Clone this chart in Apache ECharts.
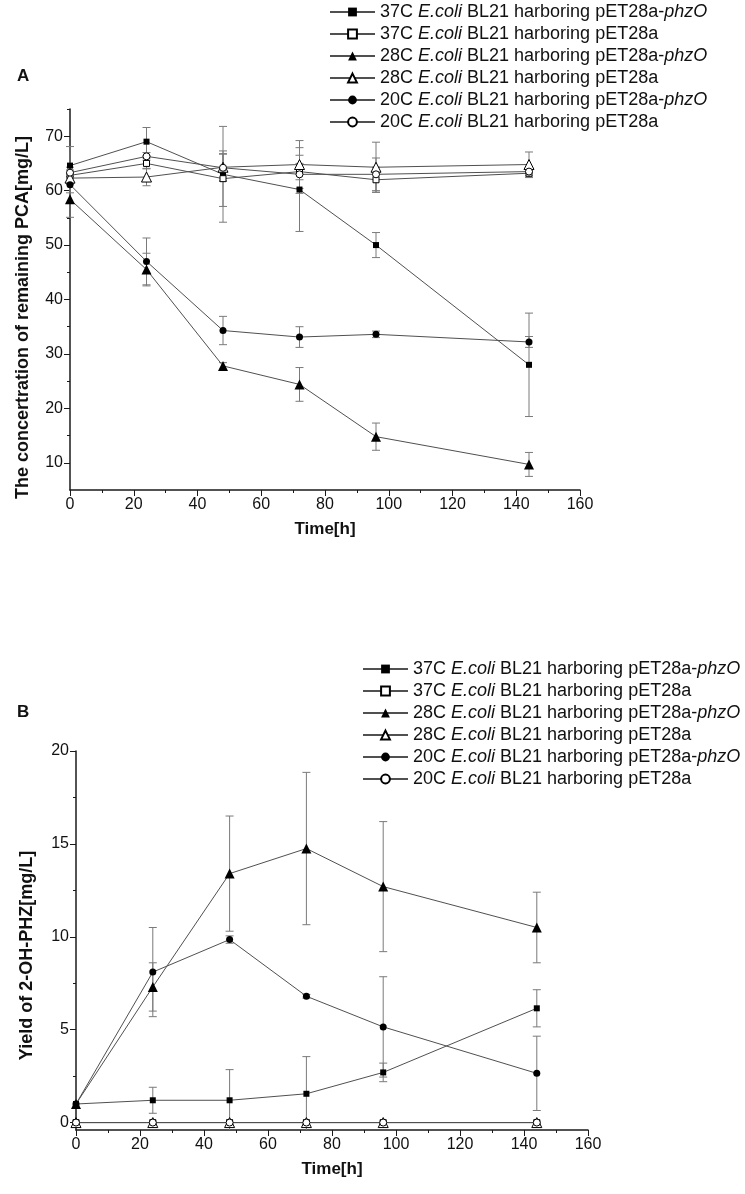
<!DOCTYPE html>
<html>
<head>
<meta charset="utf-8">
<script src="https://cdn.jsdelivr.net/npm/echarts@6/dist/echarts.min.js"></script>
<style>
html,body{margin:0;padding:0;background:#fff;}
#chart{width:745px;height:1194px;}
</style>
</head>
<body>
<div id="chart"></div>
<script>
// ---------- data ----------
const hours = [0, 24, 48, 72, 96, 144];
const xTicks = [0, 20, 40, 60, 80, 100, 120, 140, 160];
const yTicksA = [10, 20, 30, 40, 50, 60, 70];
const yMinorA = [15, 25, 35, 45, 55, 65, 75];
const yTicksB = [0, 5, 10, 15, 20];
const yMinorB = [2.5, 7.5, 12.5, 17.5];

const legendLabels = [
  '37C {i|E.coli} BL21 harboring pET28a-{i|phzO}',
  '37C {i|E.coli} BL21 harboring pET28a',
  '28C {i|E.coli} BL21 harboring pET28a-{i|phzO}',
  '28C {i|E.coli} BL21 harboring pET28a',
  '20C {i|E.coli} BL21 harboring pET28a-{i|phzO}',
  '20C {i|E.coli} BL21 harboring pET28a'
];

// Panel A: remaining PCA (mg/L)
const pca37phzO    = [64.6, 69.0, 63.0, 60.2, 50.0, 28.0];
const pca37phzOErr = [3.5, 2.6, 8.8, 7.7, 2.3, 9.5];
const pca37ctrl    = [62.8, 65.0, 62.2, 63.5, 62.0, 63.2];
const pca37ctrlErr = [1.0, 1.0, 5.1, 1.5, 2.3, 0.8];
const pca28phzO    = [58.4, 45.5, 27.8, 24.4, 14.8, 9.7];
const pca28phzOErr = [3.3, 3.0, 0.6, 3.1, 2.5, 2.2];
const pca28ctrl    = [62.3, 62.5, 64.3, 64.8, 64.3, 64.8];
const pca28ctrlErr = [1.0, 1.6, 2.5, 4.4, 4.6, 2.3];
const pca20phzO    = [61.1, 47.0, 34.3, 33.1, 33.6, 32.2];
const pca20phzOErr = [1.5, 4.3, 2.6, 1.9, 0.6, 1.0];
const pca20ctrl    = [63.3, 66.3, 64.2, 63.0, 63.0, 63.5];
const pca20ctrlErr = [1.0, 0.7, 2.5, 3.5, 3.0, 0.8];

// Panel B: yield of 2-OH-PHZ (mg/L)
const oh37phzO    = [1.0, 1.2, 1.2, 1.55, 2.7, 6.15];
const oh37phzOErr = [0, 0.7, 1.65, 2.0, 0.5, 1.0];
const oh37ctrl    = [0, 0, 0, 0, 0, 0];
const oh37ctrlErr = [0, 0, 0, 0, 0, 0];
const oh28phzO    = [1.0, 7.3, 13.4, 14.75, 12.7, 10.5];
const oh28phzOErr = [0, 1.3, 3.1, 4.1, 3.5, 1.9];
const oh28ctrl    = [0, 0, 0, 0, 0, 0];
const oh28ctrlErr = [0, 0, 0, 0, 0, 0];
const oh20phzO    = [1.0, 8.1, 9.85, 6.8, 5.15, 2.65];
const oh20phzOErr = [0, 2.4, 0.2, 0.1, 2.7, 2.0];
const oh20ctrl    = [0, 0, 0, 0, 0, 0];
const oh20ctrlErr = [0, 0, 0, 0, 0, 0];

// ---------- styling ----------
const FONT = '"Liberation Sans", Arial, sans-serif';
const symbols = ['rect', 'rect', 'triangle', 'triangle', 'circle', 'circle'];
const symbolSizes = [6, 6, 10, 10, 7, 7];
const filled = [true, false, true, false, true, false];
const LINE_COLOR = '#505050';
const ERR_COLOR = '#7a7a7a';

function errRender(params, api) {
  const x = api.value(0), y = api.value(1), e = api.value(2);
  const cs = params.coordSys;
  const top = api.coord([x, y + e]);
  const bot = api.coord([x, y - e]);
  const yMin = cs.y, yMax = cs.y + cs.height;
  const t = Math.max(top[1], yMin), b = Math.min(bot[1], yMax);
  const hw = 4;
  const st = {stroke: ERR_COLOR, lineWidth: 1};
  const ch = [{type: 'line', shape: {x1: top[0], y1: t, x2: top[0], y2: b}, style: st}];
  if (top[1] >= yMin) ch.push({type: 'line', shape: {x1: top[0] - hw, y1: top[1], x2: top[0] + hw, y2: top[1]}, style: st});
  if (bot[1] <= yMax) ch.push({type: 'line', shape: {x1: bot[0] - hw, y1: bot[1], x2: bot[0] + hw, y2: bot[1]}, style: st});
  return {type: 'group', children: ch};
}

function buildPanel(prefix, means, errs, xi, yi) {
  const out = [];
  means.forEach((m, k) => {
    const ed = [];
    hours.forEach((h, i) => { if (errs[k][i] > 0) ed.push([h, m[i], errs[k][i]]); });
    out.push({
      type: 'custom', name: prefix + 'err' + k, xAxisIndex: xi, yAxisIndex: yi,
      renderItem: errRender, data: ed, encode: {x: 0, y: 1}, z: 1, silent: true
    });
  });
  means.forEach((m, k) => {
    out.push({
      type: 'line', name: prefix + k, xAxisIndex: xi, yAxisIndex: yi,
      data: hours.map((h, i) => [h, m[i]]),
      symbol: symbols[k], symbolSize: symbolSizes[k], showAllSymbol: true,
      lineStyle: {color: LINE_COLOR, width: 1},
      itemStyle: filled[k] ? {color: '#000', borderColor: '#000', borderWidth: 0}
                           : {color: '#fff', borderColor: '#000', borderWidth: 1},
      z: 2 + k, animation: false
    });
  });
  return out;
}

const seriesA = buildPanel('A',
  [pca37phzO, pca37ctrl, pca28phzO, pca28ctrl, pca20phzO, pca20ctrl],
  [pca37phzOErr, pca37ctrlErr, pca28phzOErr, pca28ctrlErr, pca20phzOErr, pca20ctrlErr], 0, 0);
const seriesB = buildPanel('B',
  [oh37phzO, oh37ctrl, oh28phzO, oh28ctrl, oh20phzO, oh20ctrl],
  [oh37phzOErr, oh37ctrlErr, oh28phzOErr, oh28ctrlErr, oh20phzOErr, oh20ctrlErr], 1, 2);

const axisLineStyle = {color: '#1a1a1a', width: 1.5};
function xAxisDef(gi) {
  return {
    gridIndex: gi, type: 'value', min: 0, max: 160, interval: 20,
    axisLine: {show: true, onZero: false, lineStyle: axisLineStyle},
    axisTick: {show: true, length: 6, lineStyle: {color: '#1a1a1a', width: 1}},
    minorTick: {show: true, splitNumber: 2, length: 3, lineStyle: {color: '#1a1a1a', width: 1}},
    splitLine: {show: false}, minorSplitLine: {show: false},
    axisLabel: {fontSize: 16, color: '#111', margin: 7, fontFamily: FONT, showMinLabel: true, showMaxLabel: true},
    name: 'Time[h]', nameLocation: 'middle', nameGap: 31,
    nameTextStyle: {fontSize: 17, fontWeight: 'bold', color: '#111', fontFamily: FONT}
  };
}
function yMain(gi, min, max, ticks, name, gap, shift) {
  return {
    gridIndex: gi, type: 'value', min: min, max: max, position: 'left',
    axisLine: {show: true, onZero: false, lineStyle: axisLineStyle},
    axisTick: {show: true, length: 6, customValues: ticks, lineStyle: {color: '#1a1a1a', width: 1}},
    splitLine: {show: false},
    axisLabel: {fontSize: 16, color: '#111', margin: 7, fontFamily: FONT, customValues: ticks},
    name: name, nameLocation: 'middle', nameGap: gap, nameRotate: 90,
    nameTextStyle: {fontSize: 18, fontWeight: 'bold', color: '#111', fontFamily: FONT,
                    padding: [0, shift, 0, 0]}
  };
}
function yMinor(gi, min, max, ticks) {
  return {
    gridIndex: gi, type: 'value', min: min, max: max, position: 'left', offset: 0,
    axisLine: {show: false},
    axisTick: {show: true, length: 3, customValues: ticks, lineStyle: {color: '#1a1a1a', width: 1}},
    splitLine: {show: false},
    axisLabel: {show: false}
  };
}

const legendText = {
  fontSize: 18, color: '#111', fontFamily: FONT,
  rich: {i: {fontSize: 18, fontStyle: 'italic', color: '#111', fontFamily: FONT}}
};
function legendDef(prefix, left, top) {
  return {
    orient: 'vertical', left: left, top: top, itemWidth: 45, itemHeight: 11, itemGap: 4,
    padding: 0, selectedMode: false,
    data: [0, 1, 2, 3, 4, 5].map(k => prefix + k),
    formatter: name => legendLabels[+name.slice(1)],
    textStyle: legendText
  };
}

const option = {
  animation: false,
  backgroundColor: '#fff',
  title: [
    {text: 'A', left: 12, top: 63, textStyle: {fontSize: 17, fontWeight: 'bold', color: '#111', fontFamily: FONT}},
    {text: 'B', left: 12, top: 699, textStyle: {fontSize: 17, fontWeight: 'bold', color: '#111', fontFamily: FONT}}
  ],
  legend: [legendDef('A', 329, 3), legendDef('B', 362, 660)],
  grid: [
    {left: 70, top: 109, width: 510, height: 381, containLabel: false},
    {left: 76, top: 751, width: 512, height: 379, containLabel: false}
  ],
  xAxis: [xAxisDef(0), xAxisDef(1)],
  yAxis: [
    yMain(0, 5, 75, yTicksA, 'The concertration of remaining PCA[mg/L]', 38, 36),
    yMinor(0, 5, 75, yMinorA),
    yMain(1, -0.4, 20, yTicksB, 'Yield of 2-OH-PHZ[mg/L]', 40, 30),
    yMinor(1, -0.4, 20, yMinorB)
  ],
  series: seriesA.concat(seriesB)
};

const chart = echarts.init(document.getElementById('chart'), null, {renderer: 'canvas'});
chart.setOption(option);
</script>
</body>
</html>
